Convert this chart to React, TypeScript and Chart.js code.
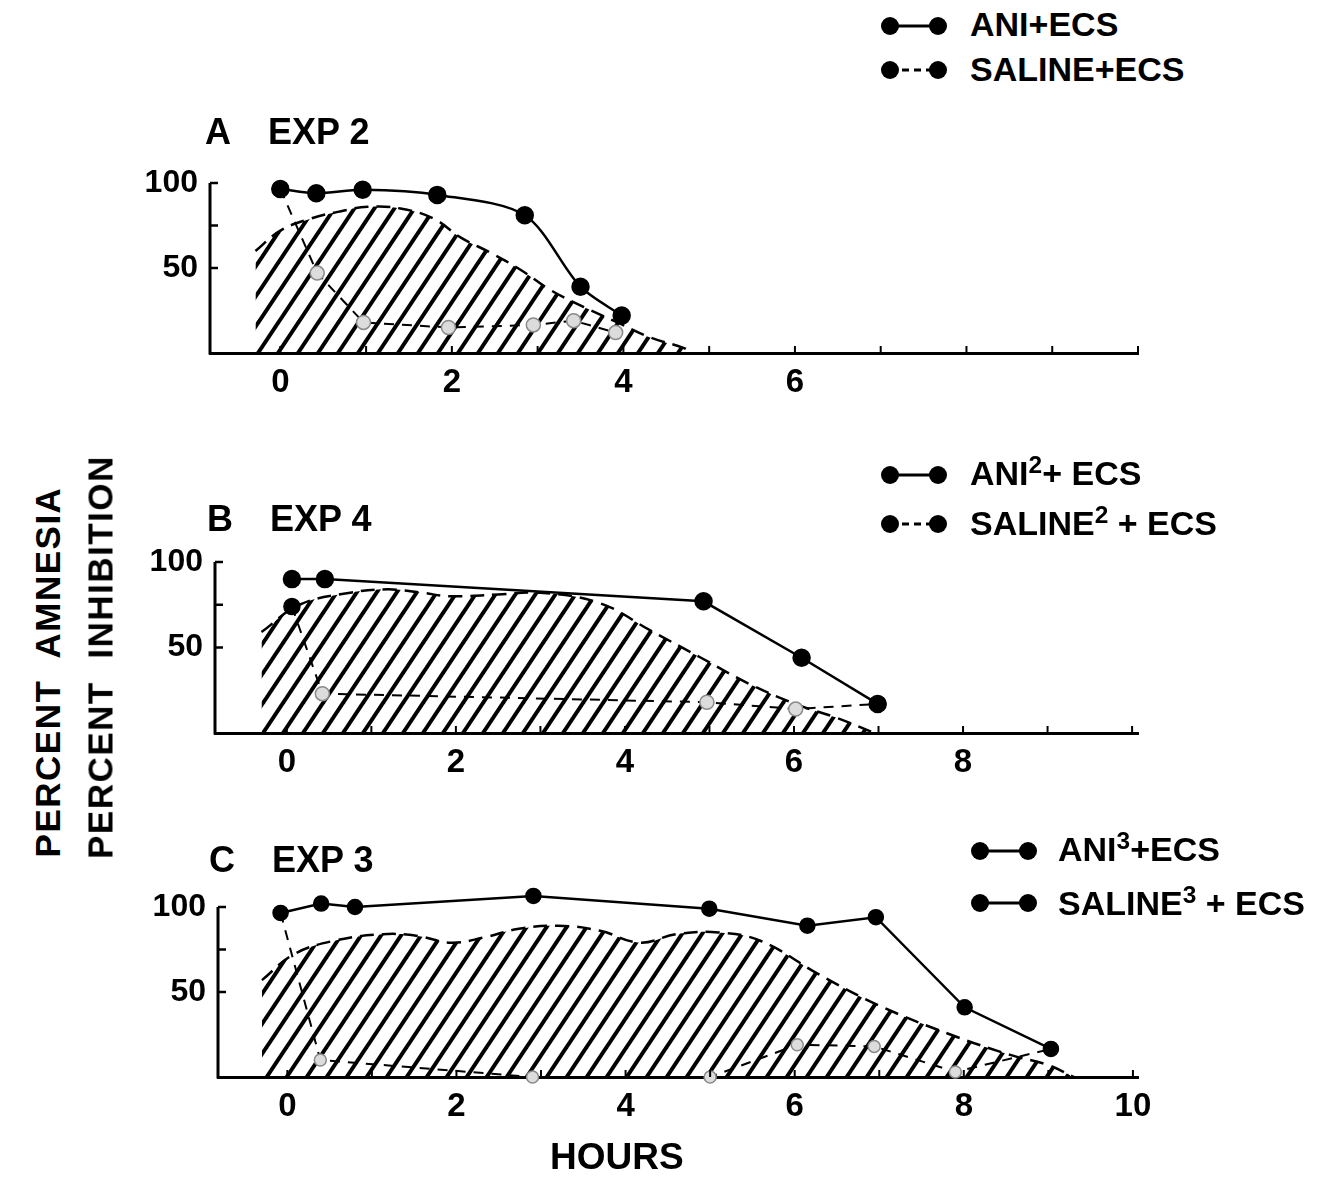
import React, { useEffect, useRef } from 'react';
import { Chart, registerables } from 'chart.js';

Chart.register(...registerables);

const FONT = '"Liberation Sans", Arial, sans-serif';

// ---------- DATA ----------
// Panel A — EXP 2
const aniA_x = [0, 0.42, 0.96, 1.83, 2.85, 3.5, 3.98];
const aniA_y = [96.5, 94, 96, 93, 81, 39, 22];
const salA_x = [0, 0.43, 0.97, 1.96, 2.95, 3.42, 3.91];
const salA_y = [96.5, 47, 18, 15, 16.5, 19, 12];
const hatchA_x = [-0.29, 0, 0.35, 0.67, 1.02, 1.4, 1.79, 2.1, 2.45, 2.8, 3.15, 3.54, 3.93, 4.32, 4.7, 4.8];
const hatchA_y = [60, 72, 79, 83, 86, 85, 79, 68, 59, 49, 37, 27, 18, 9, 3, 0];
const xLabelsA = [0, 2, 4, 6];

// Panel B — EXP 4
const aniB_x = [0.06, 0.45, 4.93, 6.09, 6.99];
const aniB_y = [90, 90, 77, 44, 17];
const salB_x = [0.06, 0.42, 4.97, 6.02, 6.99];
const salB_y = [74, 23, 18, 14, 17];
const hatchB_x = [-0.3, 0.15, 0.75, 1.2, 1.6, 1.93, 2.5, 3.0, 3.7, 4.3, 4.9, 5.5, 6.07, 6.5, 6.95];
const hatchB_y = [59, 75, 82, 84, 82, 80, 81, 82, 76, 60, 44, 28, 16, 9, 0];
const xLabelsB = [0, 2, 4, 6, 8];

// Panel C — EXP 3
const aniC_x = [-0.08, 0.4, 0.8, 2.91, 4.99, 6.15, 6.96, 8.01, 9.03];
const aniC_y = [96.5, 102, 100, 106.5, 99, 89, 94, 41, 16.5];
const salC_x = [-0.08, 0.39, 2.9, 5.0, 6.03, 6.94, 7.9, 9.03];
const salC_y = [96.5, 10, 0, 0, 19, 18, 3, 16.5];
const hatchC_x = [-0.3, 0.07, 0.54, 1.13, 1.54, 1.93, 2.32, 2.72, 3.2, 3.7, 4.17, 4.6, 5.1, 5.6, 6.3, 7.0, 7.84, 8.55, 9.0, 9.3];
const hatchC_y = [57, 72, 80, 84, 83, 79, 82, 87, 89, 86, 79, 84, 85, 80, 60, 42, 25, 13, 7, 0];
const xLabelsC = [0, 2, 4, 6, 8, 10];

const hourTicks = [0, 1, 2, 3, 4, 5, 6, 7, 8, 9, 10];
const yLabelTicks = [50, 100];
const yMarkTicks = [50, 75, 100];
const Y_AXIS_TOP = 100;
const Y_MAX = 112;

// ---------- helpers ----------
const pts = (xs: number[], ys: number[]) => xs.map((x, i) => ({ x, y: ys[i] }));

function makeHatch(ctx: CanvasRenderingContext2D): CanvasPattern | string {
  const W = 20;
  const H = 30;
  const t = document.createElement('canvas');
  t.width = W;
  t.height = H;
  const c = t.getContext('2d')!;
  c.strokeStyle = '#000';
  c.lineWidth = 4;
  for (const k of [-1, 0, 1]) {
    c.beginPath();
    c.moveTo(k * W - W, 2 * H);
    c.lineTo(k * W + 2 * W, -H);
    c.stroke();
  }
  return ctx.createPattern(t, 'repeat') || '#000';
}

const axisDecor = {
  id: 'axisDecor',
  afterDraw(chart: any) {
    const { ctx, chartArea, scales } = chart;
    const x = scales.x;
    const y = scales.y;
    ctx.save();
    ctx.strokeStyle = '#000';
    ctx.lineWidth = 3;
    ctx.beginPath();
    ctx.moveTo(chartArea.left, y.getPixelForValue(0) + 1.5);
    ctx.lineTo(chartArea.left, y.getPixelForValue(Y_AXIS_TOP));
    ctx.stroke();
    ctx.lineWidth = 2;
    for (const v of hourTicks) {
      const px = x.getPixelForValue(v);
      ctx.beginPath();
      ctx.moveTo(px, chartArea.bottom);
      ctx.lineTo(px, chartArea.bottom - 7);
      ctx.stroke();
    }
    ctx.lineWidth = 2.5;
    for (const v of yMarkTicks) {
      const py = y.getPixelForValue(v);
      ctx.beginPath();
      ctx.moveTo(chartArea.left, py);
      ctx.lineTo(chartArea.left + 8, py);
      ctx.stroke();
    }
    ctx.restore();
  },
};

type PanelCfg = {
  canvas: { left: number; top: number; width: number; height: number };
  area: { left: number; top100: number; right: number; bottom: number };
  xMin: number;
  xMax: number;
  xLabels: number[];
  ani: { x: number; y: number }[];
  sal: { x: number; y: number }[];
  salFill: string[];
  hatch: { x: number; y: number }[];
  aniTension: number;
  radius: number;
};

function Panel({ cfg }: { cfg: PanelCfg }) {
  const ref = useRef<HTMLCanvasElement>(null);
  useEffect(() => {
    const canvas = ref.current!;
    const ctx = canvas.getContext('2d')!;
    const pattern = makeHatch(ctx);
    const { canvas: cv, area } = cfg;
    const yW = area.left - cv.left;
    const xH = cv.top + cv.height - area.bottom;
    const areaTop = area.top100 - ((Y_MAX - Y_AXIS_TOP) / Y_AXIS_TOP) * (area.bottom - area.top100);
    const chart = new Chart(canvas, {
      type: 'line',
      data: {
        datasets: [
          {
            label: 'ANI',
            data: cfg.ani,
            borderColor: '#000',
            borderWidth: 2.5,
            pointRadius: cfg.radius,
            pointBackgroundColor: '#000',
            pointBorderColor: '#000',
            tension: cfg.aniTension,
            fill: false,
            clip: false,
          } as any,
          {
            label: 'SALINE',
            data: cfg.sal,
            borderColor: '#000',
            borderWidth: 2,
            borderDash: [10, 8],
            pointRadius: cfg.salFill.map((f) => (f === '#000' ? cfg.radius : cfg.radius - 1)),
            pointBackgroundColor: cfg.salFill,
            pointBorderColor: cfg.salFill.map((f) => (f === '#000' ? '#000' : '#8a8a8a')),
            pointBorderWidth: 1.5,
            tension: 0,
            fill: false,
            clip: false,
          } as any,
          {
            label: 'hatch',
            data: cfg.hatch,
            borderColor: '#000',
            borderWidth: 2.5,
            borderDash: [14, 8],
            backgroundColor: pattern as any,
            pointRadius: 0,
            tension: 0.4,
            fill: 'origin',
          } as any,
        ],
      },
      options: {
        animation: false,
        responsive: false,
        events: [],
        layout: {
          padding: {
            left: 0,
            top: areaTop - cv.top,
            right: cv.left + cv.width - area.right,
            bottom: 0,
          },
        },
        plugins: { legend: { display: false }, tooltip: { enabled: false } },
        scales: {
          x: {
            type: 'linear',
            min: cfg.xMin,
            max: cfg.xMax,
            afterFit: (s: any) => {
              s.height = xH;
            },
            afterBuildTicks: (s: any) => {
              s.ticks = cfg.xLabels.map((v) => ({ value: v }));
            },
            grid: { display: false, drawTicks: false },
            border: { display: true, color: '#000', width: 3 },
            ticks: {
              padding: 10,
              color: '#000',
              font: { family: FONT, size: 33, weight: 'bold' },
              maxRotation: 0,
              callback: (v: any) => String(v),
            },
          },
          y: {
            type: 'linear',
            min: 0,
            max: Y_MAX,
            afterFit: (s: any) => {
              s.width = yW;
            },
            afterBuildTicks: (s: any) => {
              s.ticks = yLabelTicks.map((v) => ({ value: v }));
            },
            grid: { display: false, drawTicks: false },
            border: { display: false },
            ticks: {
              padding: 12,
              color: '#000',
              font: { family: FONT, size: 32, weight: 'bold' },
              callback: (v: any) => String(v),
            },
          },
        },
      } as any,
      plugins: [axisDecor],
    });
    return () => chart.destroy();
  }, []);
  const { canvas: cv } = cfg;
  return (
    <canvas
      ref={ref}
      width={cv.width}
      height={cv.height}
      style={{ position: 'absolute', left: cv.left, top: cv.top, width: cv.width, height: cv.height }}
    />
  );
}

const GREY = '#dcdcdc';

const panelA: PanelCfg = {
  canvas: { left: 100, top: 110, width: 1080, height: 310 },
  area: { left: 210, top100: 183, right: 1138, bottom: 353 },
  xMin: -0.82,
  xMax: 10,
  xLabels: xLabelsA,
  ani: pts(aniA_x, aniA_y),
  sal: pts(salA_x, salA_y),
  salFill: ['#000', GREY, GREY, GREY, GREY, GREY, GREY],
  hatch: pts(hatchA_x, hatchA_y),
  aniTension: 0.3,
  radius: 8,
};

const panelB: PanelCfg = {
  canvas: { left: 105, top: 490, width: 1075, height: 310 },
  area: { left: 215, top100: 562, right: 1138, bottom: 733 },
  xMin: -0.85,
  xMax: 10.07,
  xLabels: xLabelsB,
  ani: pts(aniB_x, aniB_y),
  sal: pts(salB_x, salB_y),
  salFill: ['#000', GREY, GREY, GREY, '#000'],
  hatch: pts(hatchB_x, hatchB_y),
  aniTension: 0,
  radius: 8,
};

const panelC: PanelCfg = {
  canvas: { left: 108, top: 835, width: 1072, height: 310 },
  area: { left: 218, top100: 907, right: 1138, bottom: 1077 },
  xMin: -0.82,
  xMax: 10.06,
  xLabels: xLabelsC,
  ani: pts(aniC_x, aniC_y),
  sal: pts(salC_x, salC_y),
  salFill: ['#000', GREY, GREY, GREY, GREY, GREY, GREY, '#000'],
  hatch: pts(hatchC_x, hatchC_y),
  aniTension: 0,
  radius: 7,
};

function T({ x, cy, size, weight = 'bold', children }: any) {
  return (
    <div
      style={{
        position: 'absolute',
        left: x,
        top: cy - size * 0.49,
        fontSize: size,
        lineHeight: `${size}px`,
        fontFamily: FONT,
        fontWeight: weight,
        whiteSpace: 'pre',
        color: '#000',
      }}
    >
      {children}
    </div>
  );
}

function Sup({ children }: any) {
  return (
    <span style={{ fontSize: '0.72em', position: 'relative', top: '-0.5em' }}>{children}</span>
  );
}

function Marker({ x, cy, dashed }: { x: number; cy: number; dashed: boolean }) {
  return (
    <svg
      style={{ position: 'absolute', left: x, top: cy - 10 }}
      width={68}
      height={20}
    >
      <line
        x1={10}
        y1={10}
        x2={58}
        y2={10}
        stroke="#000"
        strokeWidth={3}
        strokeDasharray={dashed ? '7 5' : undefined}
      />
      <circle cx={10} cy={10} r={9} fill="#000" />
      <circle cx={58} cy={10} r={9} fill="#000" />
    </svg>
  );
}

function Rot({ cx, cy, size, children }: any) {
  return (
    <div
      style={{
        position: 'absolute',
        left: cx,
        top: cy,
        transform: 'translate(-50%, -50%) rotate(-90deg)',
        fontSize: size,
        lineHeight: `${size}px`,
        fontFamily: FONT,
        fontWeight: 'bold',
        whiteSpace: 'pre',
        letterSpacing: 1.5,
        color: '#000',
      }}
    >
      {children}
    </div>
  );
}

export default function App() {
  return (
    <div
      style={{
        position: 'absolute',
        left: 0,
        top: 0,
        width: 1322,
        height: 1178,
        background: '#fff',
        overflow: 'hidden',
      }}
    >
      <Panel cfg={panelA} />
      <Panel cfg={panelB} />
      <Panel cfg={panelC} />

      {/* Legends */}
      <Marker x={880} cy={26} dashed={false} />
      <T x={970} cy={24} size={34}>ANI+ECS</T>
      <Marker x={880} cy={70} dashed={true} />
      <T x={970} cy={69} size={34}>SALINE+ECS</T>

      <Marker x={880} cy={475} dashed={false} />
      <T x={970} cy={473} size={34}>
        ANI<Sup>2</Sup>+ ECS
      </T>
      <Marker x={880} cy={524} dashed={true} />
      <T x={970} cy={523} size={34}>
        SALINE<Sup>2</Sup> + ECS
      </T>

      <Marker x={970} cy={851} dashed={false} />
      <T x={1058} cy={849} size={34}>
        ANI<Sup>3</Sup>+ECS
      </T>
      <Marker x={970} cy={903} dashed={false} />
      <T x={1058} cy={903} size={34}>
        SALINE<Sup>3</Sup> + ECS
      </T>

      {/* Panel titles */}
      <T x={205} cy={132} size={36}>A</T>
      <T x={268} cy={132} size={36}>EXP 2</T>
      <T x={207} cy={519} size={36}>B</T>
      <T x={270} cy={519} size={36}>EXP 4</T>
      <T x={209} cy={860} size={36}>C</T>
      <T x={272} cy={860} size={36}>EXP 3</T>

      {/* Axis titles */}
      <Rot cx={47} cy={672} size={35}>PERCENT  AMNESIA</Rot>
      <Rot cx={100} cy={657} size={35}>PERCENT  INHIBITION</Rot>
      <T x={550} cy={1156} size={37}>HOURS</T>
    </div>
  );
}
